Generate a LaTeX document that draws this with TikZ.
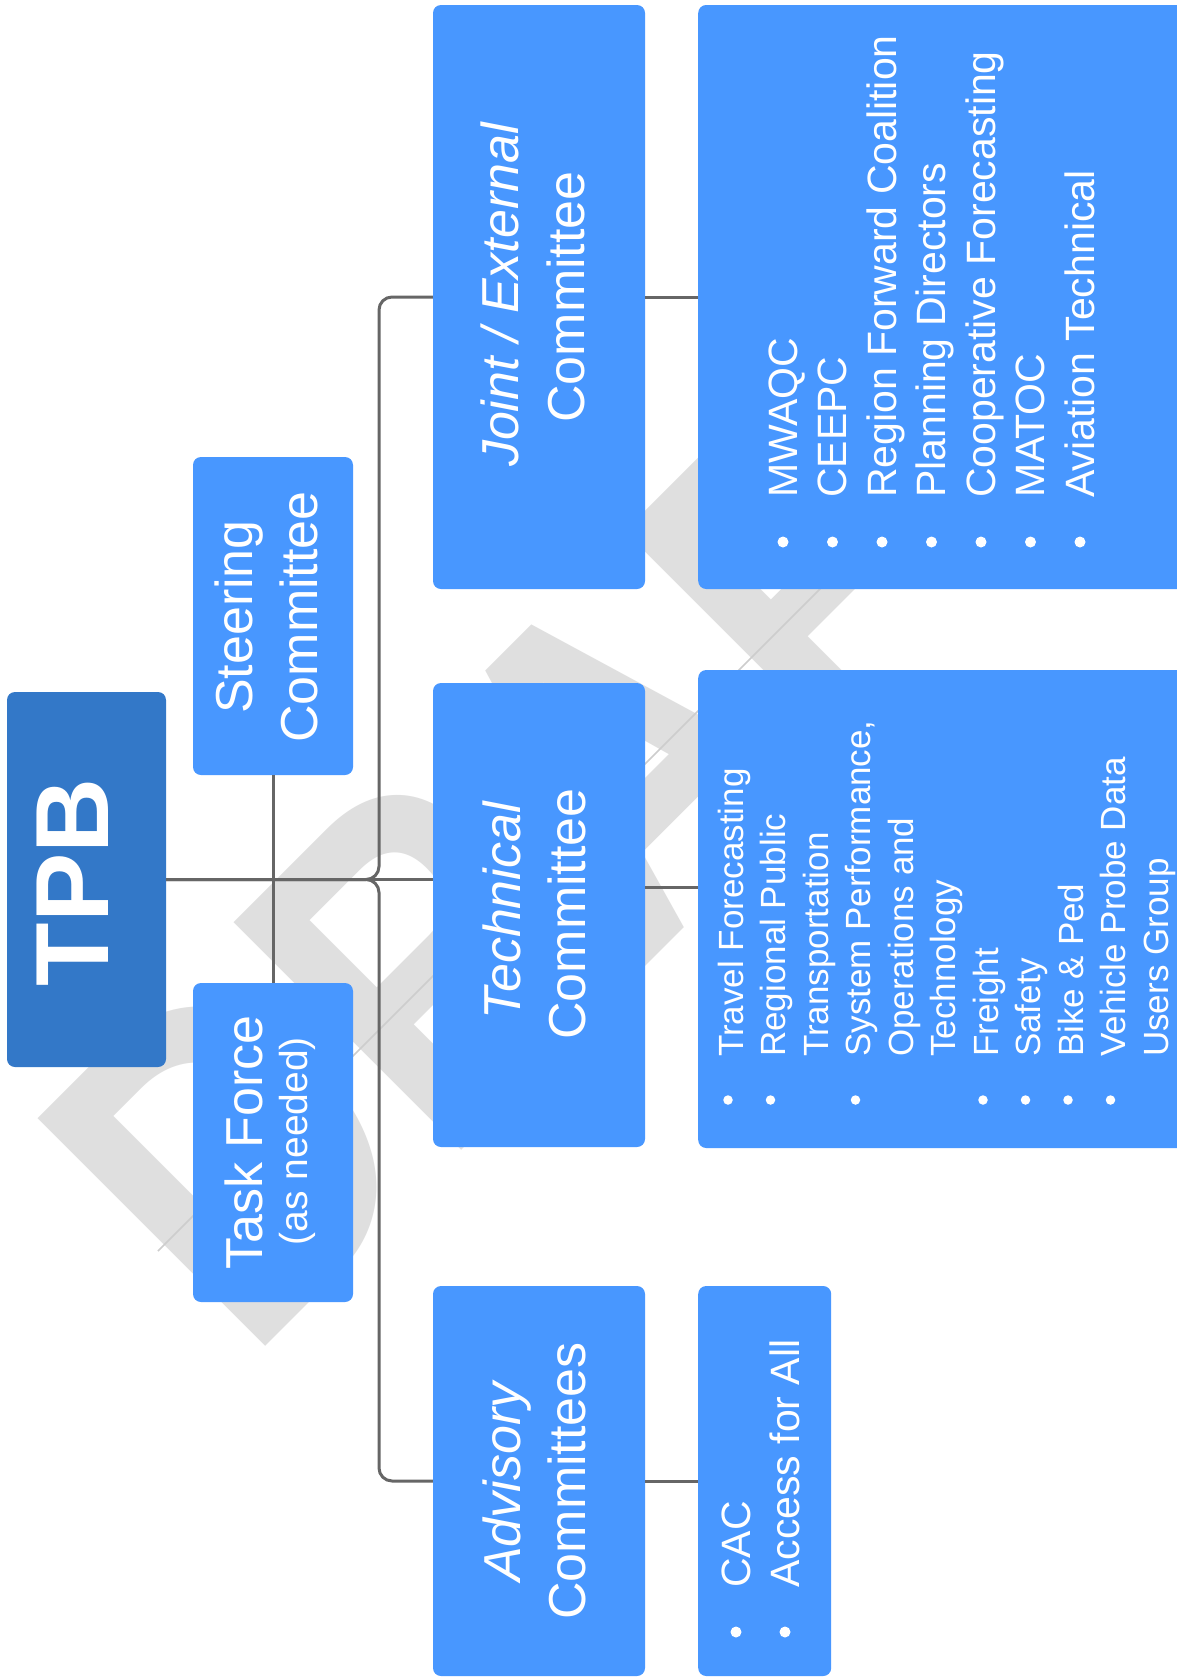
\documentclass[tikz,border=0pt]{standalone}
\usepackage{fontspec}
\setmainfont{Liberation Sans}
\definecolor{boxblue}{RGB}{72,151,255}
\definecolor{tpbblue}{RGB}{51,120,200}
\definecolor{wmgray}{RGB}{223,223,223}
\definecolor{wmline}{RGB}{205,205,205}
\definecolor{linegray}{RGB}{102,102,102}
\begin{document}
\begin{tikzpicture}[x=1pt,y=-1pt,
  box/.style={fill=boxblue, draw=none, rounded corners=8pt, inner sep=0pt},
  tpbbox/.style={fill=tpbblue, draw=none, rounded corners=8pt, inner sep=0pt},
  title/.style={rotate=90, text=white, inner sep=0pt, anchor=base, font=\fontsize{52}{66}\selectfont},
  subtitle/.style={rotate=90, text=white, inner sep=0pt, anchor=base, font=\fontsize{39}{46}\selectfont},
  itemA/.style={rotate=90, text=white, inner sep=0pt, anchor=base west, font=\fontsize{41}{49}\selectfont},
  itemB/.style={rotate=90, text=white, inner sep=0pt, anchor=base west, font=\fontsize{35}{42}\selectfont},
  dotA/.style={circle, fill=white, inner sep=0pt, minimum size=11pt},
  dotB/.style={circle, fill=white, inner sep=0pt, minimum size=9.5pt},
  conn/.style={draw=linegray, line width=3pt},
  watermark/.style={transform shape, anchor=base west, inner sep=0pt, text=wmgray, font=\fontsize{468}{470}\selectfont\bfseries}
]
\useasboundingbox (0,0) rectangle (1177,1679);
\clip (0,0) rectangle (1177,1679);
\fill[white] (0,0) rectangle (1177,1679);

% watermark
\begin{scope}[shift={(247,1365)}, rotate=45, xscale=0.82]
  \node[watermark] (draft) at (0,0) {DRAFT};
\end{scope}
\draw[wmline, line width=1.6pt] (158,1251) -- (900,509);

% boxes
\node[tpbbox, minimum width=159pt, minimum height=375pt] (tpb) at (86.5,879.5) {};
\node[box, minimum width=160pt, minimum height=318pt] (steer) at (273,616) {};
\node[box, minimum width=160pt, minimum height=319pt] (task) at (273,1142.5) {};
\node[box, minimum width=212pt, minimum height=584pt] (joint) at (539,297) {};
\node[box, minimum width=212pt, minimum height=464pt] (tech) at (539,915) {};
\node[box, minimum width=212pt, minimum height=390pt] (adv) at (539,1481) {};
\node[box, minimum width=500pt, minimum height=584pt, anchor=west] (jlist) at (698,297) {};
\node[box, minimum width=500pt, minimum height=478pt, anchor=west] (tlist) at (698,909) {};
\node[box, minimum width=133pt, minimum height=390pt, anchor=west] (clist) at (698,1481) {};

% connectors
\coordinate (bus) at (379,0);
\coordinate (techlink) at (0,887);
\draw[conn] (tpb.east) -- (tpb.east -| tech.west);
\draw[conn, rounded corners=13pt] (tpb.east) -- (bus |- tpb.east) -- (bus |- joint.west) -- (joint.west);
\draw[conn, rounded corners=13pt] (tpb.east) -- (bus |- tpb.east) -- (bus |- adv.west) -- (adv.west);
\draw[conn] (steer.south) -- (task.north);
\draw[conn] (joint.east) -- (jlist.west);
\draw[conn] (tech.east |- techlink) -- (tlist.west |- techlink);
\draw[conn] (adv.east) -- (clist.west);

% redraw boxes on top of connectors ends (boxes already placed; connectors touch edges)

% titles
\node[rotate=90, text=white, inner sep=0pt, anchor=base, font=\fontsize{104}{110}\selectfont\bfseries] (tpbtxt) at (108,882) {TPB};
\node[title] (steer1) at (252,617) {Steering};
\node[title] (steer2) at (317,617) {Committee};
\node[title] (task1) at (262,1142.5) {Task Force};
\node[subtitle] (task2) at (307,1141) {(as needed)};
\node[title] (joint1) at (518,295) {\itshape Joint / External};
\node[title] (joint2) at (584,297) {Committee};
\node[title] (tech1) at (520,911) {\itshape Technical};
\node[title] (tech2) at (585,914) {Committee};
\node[title] (adv1) at (520,1482) {\itshape Advisory};
\node[title] (adv2) at (585,1481) {Committees};

% joint list
\foreach \t [count=\i from 0] in {MWAQC, CEEPC, Region Forward Coalition, Planning Directors, Cooperative Forecasting, MATOC, Aviation Technical}{
  \node[itemA] (jl\i) at (797+49.5*\i,498) {\t};
  \node[dotA] (jd\i) at (783+49.5*\i,542) {};
}

% technical list
\foreach \t [count=\i from 0] in {Travel Forecasting, Regional Public, Transportation, {System Performance,}, Operations and, Technology, Freight, Safety, Bike \& Ped, Vehicle Probe Data, Users Group}{
  \node[itemB] (tl\i) at (743+42.5*\i,1057) {\t};
}
\foreach \i in {0,1,3,6,7,8,9}{
  \node[dotB] (td\i) at (728+42.5*\i,1100) {};
}

% advisory list
\node[itemA] (cl0) at (750,1588) {CAC};
\node[itemA] (cl1) at (799,1588) {Access for All};
\node[dotA] (cd0) at (736,1632) {};
\node[dotA] (cd1) at (785,1632) {};
\end{tikzpicture}
\end{document}
